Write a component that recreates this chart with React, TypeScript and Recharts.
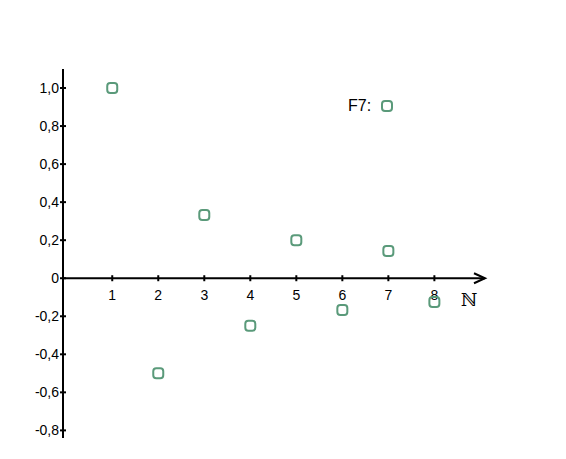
import React from "react";
import {
  ScatterChart,
  Scatter,
  XAxis,
  YAxis,
  ReferenceLine,
  ReferenceDot,
  Legend,
} from "recharts";

// Folge a(n) = (-1)^(n+1) / n
const N_VALUES = [1, 2, 3, 4, 5, 6, 7, 8];
const F7_VALUES = [1, -0.5, 0.333, -0.25, 0.2, -0.167, 0.143, -0.125];
const Y_TICKS = [1, 0.8, 0.6, 0.4, 0.2, 0, -0.2, -0.4, -0.6, -0.8];
const X_TICKS = [1, 2, 3, 4, 5, 6, 7, 8];
const SERIES_NAME = "F7:";
const AXIS_LABEL = "\u2115";

const GREEN = "#5a9a7a";
const FONT = "'Liberation Sans', Arial, sans-serif";

const points = N_VALUES.map((n, i) => ({ x: n, y: F7_VALUES[i] }));

const fmtY = (v: number) => (v === 0 ? "0" : v.toFixed(1).replace(".", ","));

const Marker = (props: any) => {
  const { cx, cy } = props;
  if (cx == null || cy == null) return null;
  return (
    <rect
      x={cx - 5}
      y={cy - 5}
      width={10}
      height={10}
      rx={3}
      fill="none"
      stroke={GREEN}
      strokeWidth={2}
    />
  );
};

const YTick = (props: any) => {
  const { x, y, payload } = props;
  return (
    <g>
      <line x1={x - 3} y1={y} x2={x + 3} y2={y} stroke="#000" strokeWidth={2} />
      <text x={x - 4} y={y} dy={5} textAnchor="end" fontSize={14} fontFamily={FONT} fill="#000">
        {fmtY(payload.value)}
      </text>
    </g>
  );
};

const XTick = (label: string) => (props: any) => {
  const { cx, cy } = props;
  return (
    <g>
      <line x1={cx} y1={cy - 3} x2={cx} y2={cy + 3} stroke="#000" strokeWidth={2} />
      <text x={cx} y={cy + 22} textAnchor="middle" fontSize={14} fontFamily={FONT} fill="#000">
        {label}
      </text>
    </g>
  );
};

const XAxisArrow = (props: any) => {
  const { x1, y1, x2 } = props;
  return (
    <g>
      <line x1={x1} y1={y1} x2={x2} y2={y1} stroke="#000" strokeWidth={2} />
      <polyline
        points={`${x2 - 11},${y1 - 5} ${x2},${y1} ${x2 - 11},${y1 + 5}`}
        fill="none"
        stroke="#000"
        strokeWidth={2}
      />
      <text x={x2 - 16} y={y1 + 28} textAnchor="middle" fontSize={18} fontFamily="'DejaVu Serif', serif" fill="#000">
        {AXIS_LABEL}
      </text>
    </g>
  );
};

const LegendContent = () => (
  <div style={{ display: "flex", alignItems: "center", fontFamily: FONT, fontSize: 16, color: "#000" }}>
    <span>{SERIES_NAME}</span>
    <svg width={12} height={12} style={{ marginLeft: 10 }}>
      <rect x={1} y={1} width={10} height={10} rx={3} fill="none" stroke={GREEN} strokeWidth={2} />
    </svg>
  </div>
);

export default function App() {
  return (
    <div style={{ width: 566, height: 459, background: "#fff" }}>
      <style>{"body{margin:0}"}</style>
      <ScatterChart width={566} height={459} margin={{ top: 69, right: 81, bottom: 21, left: 0 }}>
        <XAxis
          type="number"
          dataKey="x"
          domain={[-0.07, 9.1]}
          allowDataOverflow
          hide
        />
        <YAxis
          type="number"
          dataKey="y"
          domain={[-0.84, 1.1]}
          ticks={Y_TICKS}
          interval={0}
          allowDataOverflow
          width={63}
          axisLine={{ stroke: "#000", strokeWidth: 2 }}
          tickLine={false}
          tickSize={0}
          tickMargin={0}
          tick={<YTick />}
        />
        <ReferenceLine y={0} shape={<XAxisArrow />} />
        {X_TICKS.map((k) => (
          <ReferenceDot key={k} x={k} y={0} r={0} shape={XTick(String(k))} />
        ))}
        <Legend
          layout="vertical"
          verticalAlign="middle"
          align="center"
          wrapperStyle={{ top: 97, left: 348, width: "auto" }}
          content={<LegendContent />}
        />
        <Scatter
          name={SERIES_NAME}
          data={points}
          shape={<Marker />}
          isAnimationActive={false}
        />
      </ScatterChart>
    </div>
  );
}
